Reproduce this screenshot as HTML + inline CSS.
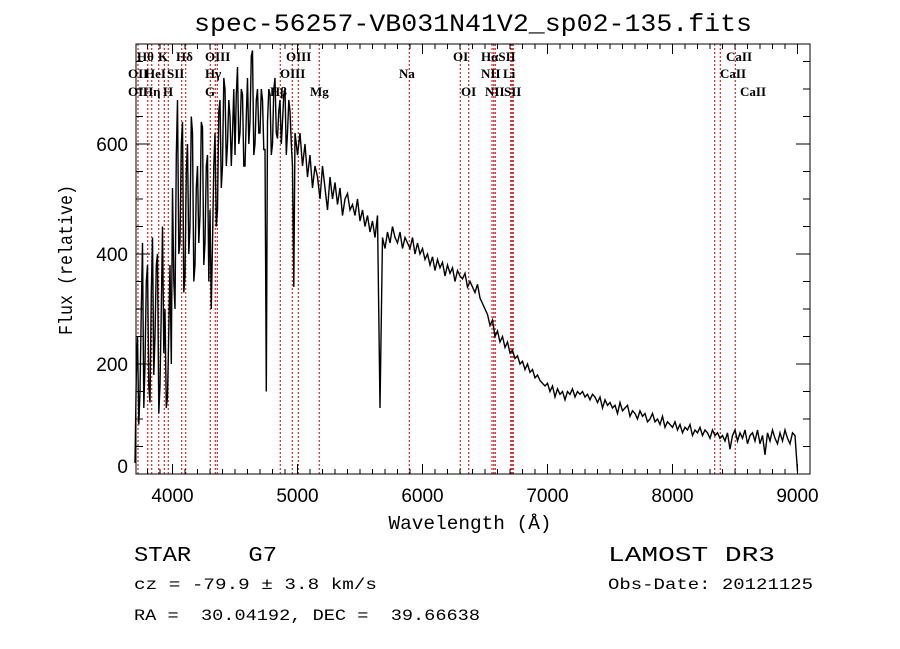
<!DOCTYPE html>
<html><head><meta charset="utf-8">
<style>
html,body{margin:0;padding:0;background:#fff;}
svg{display:block;}
text{font-family:"Liberation Sans",sans-serif;fill:#000;}
.lbl{font-family:"Liberation Serif",serif;font-size:13px;font-weight:bold;}
.mono{font-family:"Liberation Mono",monospace;}
</style></head>
<body>
<svg id="chart" width="900" height="649" viewBox="0 0 900 649" xmlns="http://www.w3.org/2000/svg">
<rect width="900" height="649" fill="#fff"/>
<text class="mono" x="473" y="31" font-size="25" text-anchor="middle" textLength="558" lengthAdjust="spacingAndGlyphs">spec-56257-VB031N41V2_sp02-135.fits</text>
<g id="lines"></g>
<g id="spec"></g>
<g id="axes"></g>
<g id="labels"></g>
<text class="mono" x="470" y="529" font-size="19" text-anchor="middle" textLength="163" lengthAdjust="spacingAndGlyphs">Wavelength (Å)</text>
<text class="mono" x="0" y="0" font-size="19" text-anchor="middle" transform="translate(72,260) rotate(-90)" textLength="150" lengthAdjust="spacingAndGlyphs">Flux (relative)</text>
<text class="mono" x="134" y="561" font-size="21" textLength="143" lengthAdjust="spacingAndGlyphs" xml:space="preserve" style="white-space:pre">STAR    G7</text>
<text class="mono" x="134" y="589" font-size="16" textLength="243" lengthAdjust="spacingAndGlyphs">cz = -79.9 ± 3.8 km/s</text>
<text class="mono" x="134" y="620" font-size="16" textLength="346" lengthAdjust="spacingAndGlyphs" xml:space="preserve" style="white-space:pre">RA =  30.04192, DEC =  39.66638</text>
<text class="mono" x="608" y="561" font-size="21" textLength="167" lengthAdjust="spacingAndGlyphs">LAMOST DR3</text>
<text class="mono" x="608" y="589" font-size="16" textLength="205" lengthAdjust="spacingAndGlyphs">Obs-Date: 20121125</text>
</svg>
<script>
const wavelengths = (function(){const a=[];for(let w=3700;w<5000;w+=10)a.push(w);for(let w=5000;w<=8980;w+=20)a.push(w);a.push(9000);return a;})();
const flux = [
20,180,250,90,150,300,420,120,200,350,380,160,130,330,430,180,250,380,400,110,160,300,450,220,300,120,140,260,380,200,
520,350,300,580,680,400,420,600,640,330,360,550,600,400,450,650,620,350,380,520,560,420,470,640,630,380,420,560,580,350,
480,300,420,560,620,450,480,660,680,520,560,720,700,560,600,680,650,560,620,700,
580,690,740,600,620,700,690,560,560,650,720,600,640,760,770,580,600,680,700,620,620,700,680,590,590,150,640,700,690,580,600,700,720,620,610,660,680,600,640,690,700,580,620,680,660,600,560,340,620,600,
580,620,560,600,540,580,520,560,540,500,560,520,480,540,500,530,490,520,470,500,510,480,490,470,500,
460,480,450,470,440,460,430,470,120,430,410,440,420,450,430,420,440,410,430,420,410,430,400,420,400,
410,390,400,380,395,370,390,375,385,360,380,365,375,350,370,360,355,365,340,350,340,330,345,320,310,
300,290,270,280,250,260,240,250,230,240,220,225,210,215,200,205,190,200,185,190,175,180,170,165,160,
165,150,160,140,155,145,150,135,150,145,155,140,150,145,150,140,145,135,145,140,130,140,120,135,125,
130,120,125,110,130,115,120,125,105,115,110,100,115,105,110,95,100,110,95,100,90,105,85,95,90,
85,95,80,90,75,85,80,90,70,80,75,85,70,80,75,65,80,70,75,65,70,60,75,45,70,
80,60,75,65,80,55,70,75,60,80,55,70,35,75,60,80,65,55,75,60,80,65,55,75,70,
5];
const lineWaves = [3724,3802,3834,3890,3934,3966,4074,4106,4302,4342,4358,4862,4958,5006,5174,5894,6302,6370,6556,6570,6582,6706,6716,6726,8338,8382,8502];
const lineLabels = [["Hθ",137,1],["K",158,1],["Hδ",176,1],["OIII",205,1],["OIII",286,1],["OI",453,1],["HαSII",481,1],["CaII",726,1],
["OII",128,2],["HeI",145,2],["SII",167,2],["Hγ",205,2],["OIII",280,2],["Na",399,2],["NII",481,2],["Li",503,2],["CaII",720,2],
["OII",128,3],["Hη",143,3],["H",163,3],["G",205,3],["Hβ",270,3],["Mg",310,3],["OI",461,3],["NII",485,3],["SII",504,3],["CaII",740,3]];
const xTicks = [4000,5000,6000,7000,8000,9000];
const yTicks = [0,200,400,600];

const NS="http://www.w3.org/2000/svg";
const L=136,R=810,T=44,B=474;
const xs=w=>172.5+(w-4000)*0.125;
const ys=f=>B-f*0.55;
function mk(tag,attrs,parent){const e=document.createElementNS(NS,tag);for(const k in attrs)e.setAttribute(k,attrs[k]);parent.appendChild(e);return e;}

const gl=document.getElementById('lines');
lineWaves.forEach(w=>{
  const l=mk('line',{x1:xs(w),x2:xs(w),y1:T,y2:B,stroke:'#c00000','stroke-width':1,'stroke-dasharray':'2,2'},gl);
  
  
});

const gs=document.getElementById('spec');
let d='';
wavelengths.forEach((w,i)=>{d+=(i?'L':'M')+xs(w).toFixed(1)+','+ys(flux[i]).toFixed(1);});
const p=mk('path',{d:d,fill:'none',stroke:'#000','stroke-width':1.4,'stroke-linejoin':'miter'},gs);



const ga=document.getElementById('axes');
const fr=mk('rect',{x:L,y:T,width:R-L,height:B-T,fill:'none',stroke:'#000','stroke-width':1},ga);


for(let w=3800;w<=9100;w+=100){
  const x=xs(w);const big=w%1000===0;const len=big?10:5;
  mk('line',{x1:x,x2:x,y1:B,y2:B-len,stroke:'#000'},ga);
  mk('line',{x1:x,x2:x,y1:T,y2:T+len,stroke:'#000'},ga);
}
for(let f=0;f<=750;f+=50){
  const y=ys(f);const big=f%200===0;const len=big?14:7;
  mk('line',{x1:L,x2:L+len,y1:y,y2:y,stroke:'#000'},ga);
  mk('line',{x1:R,x2:R-len,y1:y,y2:y,stroke:'#000'},ga);
}
xTicks.forEach(w=>{
  const t=mk('text',{x:xs(w),y:502,'font-size':19,'text-anchor':'middle'},ga);
  t.textContent=w;
  
  
});
yTicks.forEach(f=>{
  const t=mk('text',{x:128,y:Math.min(ys(f)+7,473),'font-size':19,'text-anchor':'end'},ga);
  t.textContent=f;
  
  
});

const glb=document.getElementById('labels');
const rowY=[0,61,78,96];
lineLabels.forEach(a=>{
  const t=mk('text',{x:a[1],y:rowY[a[2]],class:'lbl'},glb);
  t.textContent=a[0];
  
  
});
</script>
</body></html>
